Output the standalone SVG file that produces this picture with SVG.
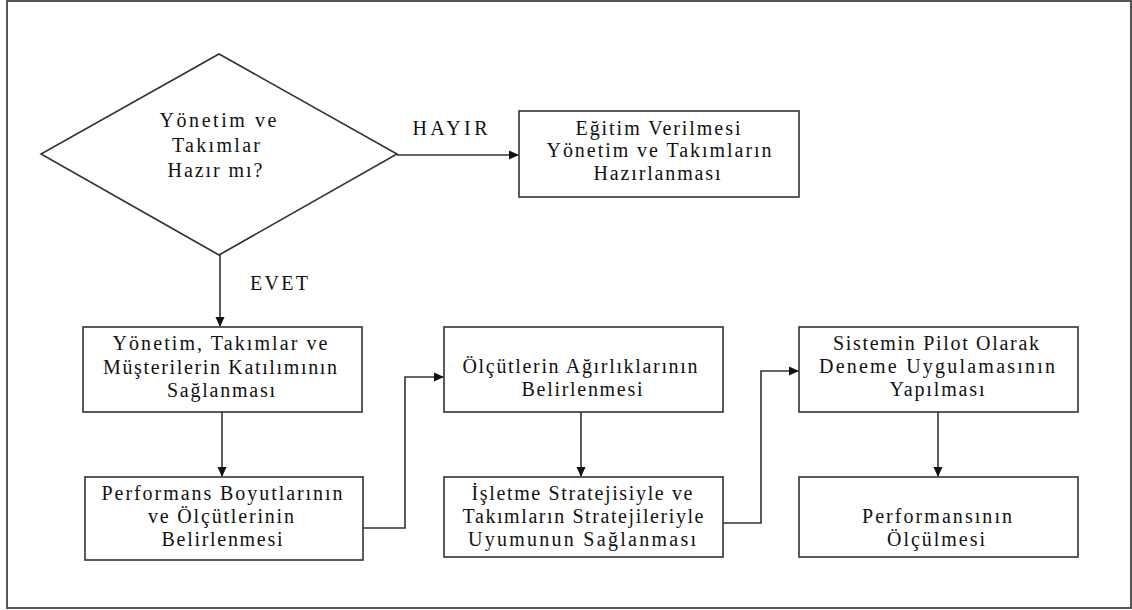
<svg xmlns="http://www.w3.org/2000/svg" width="1132" height="610" viewBox="0 0 1132 610">
  <style>
    .shape { fill: #ffffff; stroke: #333333; stroke-width: 1.6; }
    .frame { fill: none; stroke: #555555; stroke-width: 2; }
    .link { fill: none; stroke: #333333; stroke-width: 1.6; }
    text { font-family: "Liberation Serif", "Times New Roman", serif; font-size: 20px; fill: #111111; text-anchor: middle; }
  </style>
  <defs>
    <marker id="arrow" markerWidth="10" markerHeight="10" refX="9" refY="5" orient="auto" markerUnits="userSpaceOnUse">
      <path d="M0,0.5 L10,5 L0,9.5 Z" fill="#111111"/>
    </marker>
  </defs>

  <rect width="1132" height="610" fill="#ffffff"/>
  <rect class="frame" x="7" y="1" width="1124" height="607"/>

  <g id="connectors">
    <line class="link" x1="397" y1="155" x2="518" y2="155" marker-end="url(#arrow)"/>
    <line class="link" x1="220" y1="255" x2="220" y2="326" marker-end="url(#arrow)"/>
    <line class="link" x1="222" y1="412" x2="222" y2="476" marker-end="url(#arrow)"/>
    <polyline class="link" points="363,528 405,528 405,377 443,377" marker-end="url(#arrow)"/>
    <line class="link" x1="581" y1="412" x2="581" y2="476" marker-end="url(#arrow)"/>
    <polyline class="link" points="723,523 761,523 761,371 798,371" marker-end="url(#arrow)"/>
    <line class="link" x1="938" y1="412" x2="938" y2="476" marker-end="url(#arrow)"/>
    <text x="450" y="135" textLength="75" lengthAdjust="spacing">HAYIR</text>
    <text x="279" y="290" textLength="58" lengthAdjust="spacing">EVET</text>
  </g>

  <g id="decision">
    <polygon class="shape" points="219,54 397,154 219,255 41,154"/>
    <text x="218" y="127" textLength="117" lengthAdjust="spacing">Yönetim ve</text>
    <text x="216" y="152" textLength="88" lengthAdjust="spacing">Takımlar</text>
    <text x="215" y="177" textLength="95" lengthAdjust="spacing">Hazır mı?</text>
  </g>

  <g id="training">
    <rect class="shape" x="519" y="111" width="280" height="86"/>
    <text x="658" y="135" textLength="165" lengthAdjust="spacing">Eğitim Verilmesi</text>
    <text x="659" y="157" textLength="225" lengthAdjust="spacing">Yönetim ve Takımların</text>
    <text x="657" y="180" textLength="127" lengthAdjust="spacing">Hazırlanması</text>
  </g>

  <g id="participation">
    <rect class="shape" x="83" y="327" width="279" height="85"/>
    <text x="220" y="350" textLength="215" lengthAdjust="spacing">Yönetim, Takımlar ve</text>
    <text x="220" y="374" textLength="234" lengthAdjust="spacing">Müşterilerin Katılımının</text>
    <text x="221" y="397" textLength="108" lengthAdjust="spacing">Sağlanması</text>
  </g>

  <g id="dimensions">
    <rect class="shape" x="85" y="477" width="278" height="83"/>
    <text x="222" y="500" textLength="241" lengthAdjust="spacing">Performans Boyutlarının</text>
    <text x="221" y="523" textLength="146" lengthAdjust="spacing">ve Ölçütlerinin</text>
    <text x="222" y="546" textLength="121" lengthAdjust="spacing">Belirlenmesi</text>
  </g>

  <g id="weights">
    <rect class="shape" x="444" y="327" width="279" height="85"/>
    <text x="580" y="373" textLength="235" lengthAdjust="spacing">Ölçütlerin Ağırlıklarının</text>
    <text x="582" y="396" textLength="121" lengthAdjust="spacing">Belirlenmesi</text>
  </g>

  <g id="alignment">
    <rect class="shape" x="444" y="477" width="279" height="80"/>
    <text x="582" y="500" textLength="221" lengthAdjust="spacing">İşletme Stratejisiyle ve</text>
    <text x="583" y="523" textLength="241" lengthAdjust="spacing">Takımların Stratejileriyle</text>
    <text x="582" y="546" textLength="228" lengthAdjust="spacing">Uyumunun Sağlanması</text>
  </g>

  <g id="pilot">
    <rect class="shape" x="799" y="327" width="279" height="85"/>
    <text x="936" y="350" textLength="206" lengthAdjust="spacing">Sistemin Pilot Olarak</text>
    <text x="937" y="373" textLength="236" lengthAdjust="spacing">Deneme Uygulamasının</text>
    <text x="937" y="396" textLength="95" lengthAdjust="spacing">Yapılması</text>
  </g>

  <g id="measurement">
    <rect class="shape" x="799" y="477" width="279" height="80"/>
    <text x="937" y="523" textLength="150" lengthAdjust="spacing">Performansının</text>
    <text x="936" y="546" textLength="98" lengthAdjust="spacing">Ölçülmesi</text>
  </g>
</svg>
